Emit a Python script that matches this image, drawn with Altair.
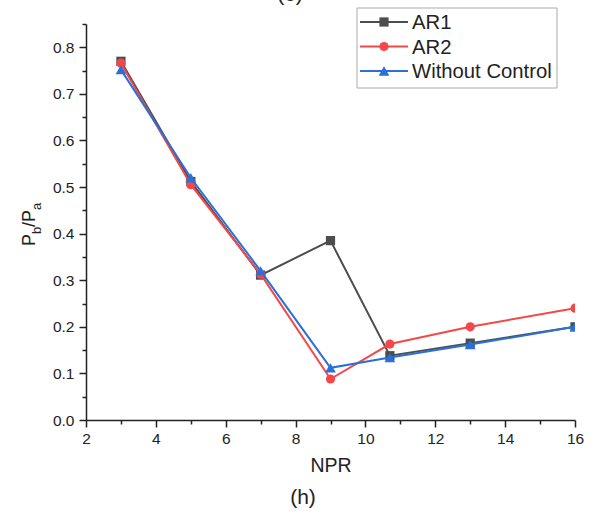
import altair as alt
import pandas as pd

npr = [3, 5, 7, 9, 10.7, 13, 16]
ar1 = [0.770, 0.512, 0.311, 0.385, 0.138, 0.165, 0.200]
ar2 = [0.766, 0.505, 0.313, 0.088, 0.163, 0.200, 0.240]
woc = [0.752, 0.520, 0.320, 0.112, 0.134, 0.162, 0.200]
names = ["AR1", "AR2", "Without Control"]
series = [ar1, ar2, woc]
colors = ["#4d4d4d", "#f44848", "#2b6fd9"]
shapes = ["square", "circle", "triangle-up"]
x_ticks = list(range(2, 17))
y_ticks = [round(i * 0.05, 2) for i in range(18)]

FONT = "Liberation Sans"
W, H = 489, 396

xs = alt.Scale(domain=[2, 16], nice=False, zero=False)
ys = alt.Scale(domain=[0, 0.85], nice=False, zero=True)

xaxis = alt.Axis(
    values=x_ticks,
    labelExpr="datum.value % 2 == 0 ? format(datum.value, 'd') : ''",
    tickSize={"condition": {"test": "datum.value % 2 == 0", "value": 7}, "value": 4},
    labelOverlap=False, labelFlush=False, grid=False,
    title="NPR", titleFontSize=19.5, titleFontWeight="normal", titlePadding=10,
    labelPadding=4,
)
ytest = "abs(datum.value * 10 - round(datum.value * 10)) < 0.001"
yaxis = alt.Axis(
    values=y_ticks,
    labelExpr=f"{ytest} ? format(datum.value, '.1f') : ''",
    tickSize={"condition": {"test": ytest, "value": 7}, "value": 4},
    labelOverlap=False, labelFlush=False, grid=False, title=None,
    labelPadding=5,
)

layers = []
for name, vals, col, shp in zip(names, series, colors, shapes):
    d = pd.DataFrame({"npr": npr, "val": vals, "series": name})
    enc = dict(
        x=alt.X("npr:Q", scale=xs, axis=xaxis),
        y=alt.Y("val:Q", scale=ys, axis=yaxis),
    )
    layers.append(alt.Chart(d).mark_line(color=col, strokeWidth=2, clip=True).encode(**enc))
    layers.append(
        alt.Chart(d).mark_point(color=col, filled=True, opacity=1, shape=shp,
                                size=85 if shp != "triangle-up" else 115, clip=True).encode(**enc)
    )


def text(t, x, y, size, angle=0, align="left", baseline="middle"):
    kw = dict(font=FONT, fontSize=size, color="#222", align=align, baseline=baseline)
    if angle:
        kw["angle"] = angle
    return alt.Chart(pd.DataFrame({"t": [t]})).mark_text(**kw).encode(
        x=alt.value(x), y=alt.value(y), text="t:N")


# legend box
layers.append(
    alt.Chart(pd.DataFrame({"a": [0]})).mark_rect(fill="white", stroke="#aaaaaa", strokeWidth=1).encode(
        x=alt.value(271), x2=alt.value(471), y=alt.value(-16), y2=alt.value(64))
)
rows = [-2, 22.5, 47]
for name, col, shp, ry in zip(names, colors, shapes, rows):
    layers.append(
        alt.Chart(pd.DataFrame({"a": [0]})).mark_rule(color=col, strokeWidth=2).encode(
            x=alt.value(274), x2=alt.value(322), y=alt.value(ry))
    )
    layers.append(
        alt.Chart(pd.DataFrame({"a": [0]})).mark_point(color=col, filled=True, opacity=1, shape=shp,
                                                       size=85 if shp != "triangle-up" else 115).encode(
            x=alt.value(298), y=alt.value(ry))
    )
    layers.append(text(name, 326, ry + 1, 20.3))

# y axis title P_b/P_a
layers.append(text("P", -51, 222, 18, angle=270, baseline="alphabetic"))
layers.append(text("b", -45, 210, 13, angle=270, baseline="alphabetic"))
layers.append(text("/", -51, 203, 18, angle=270, baseline="alphabetic"))
layers.append(text("P", -51, 198, 18, angle=270, baseline="alphabetic"))
layers.append(text("a", -45, 186, 13, angle=270, baseline="alphabetic"))

# panel labels
layers.append(text("(h)", 217, 474, 21, align="center"))
layers.append(text("(e)", 204, -23, 21, align="center", baseline="alphabetic"))

chart = alt.layer(*layers).properties(
    width=W, height=H,
    autosize=alt.AutoSizeParams(type="none"),
    padding={"left": 86, "top": 24, "right": 29, "bottom": 100},
).configure_view(stroke=None).configure_axis(
    labelFont=FONT, titleFont=FONT, labelFontSize=15.5, labelColor="#222", titleColor="#222",
    domainColor="#222", domainWidth=1.5, tickColor="#222", tickWidth=1.5,
)

chart.save("out.html", embed_options={"renderer": "svg", "actions": False})
